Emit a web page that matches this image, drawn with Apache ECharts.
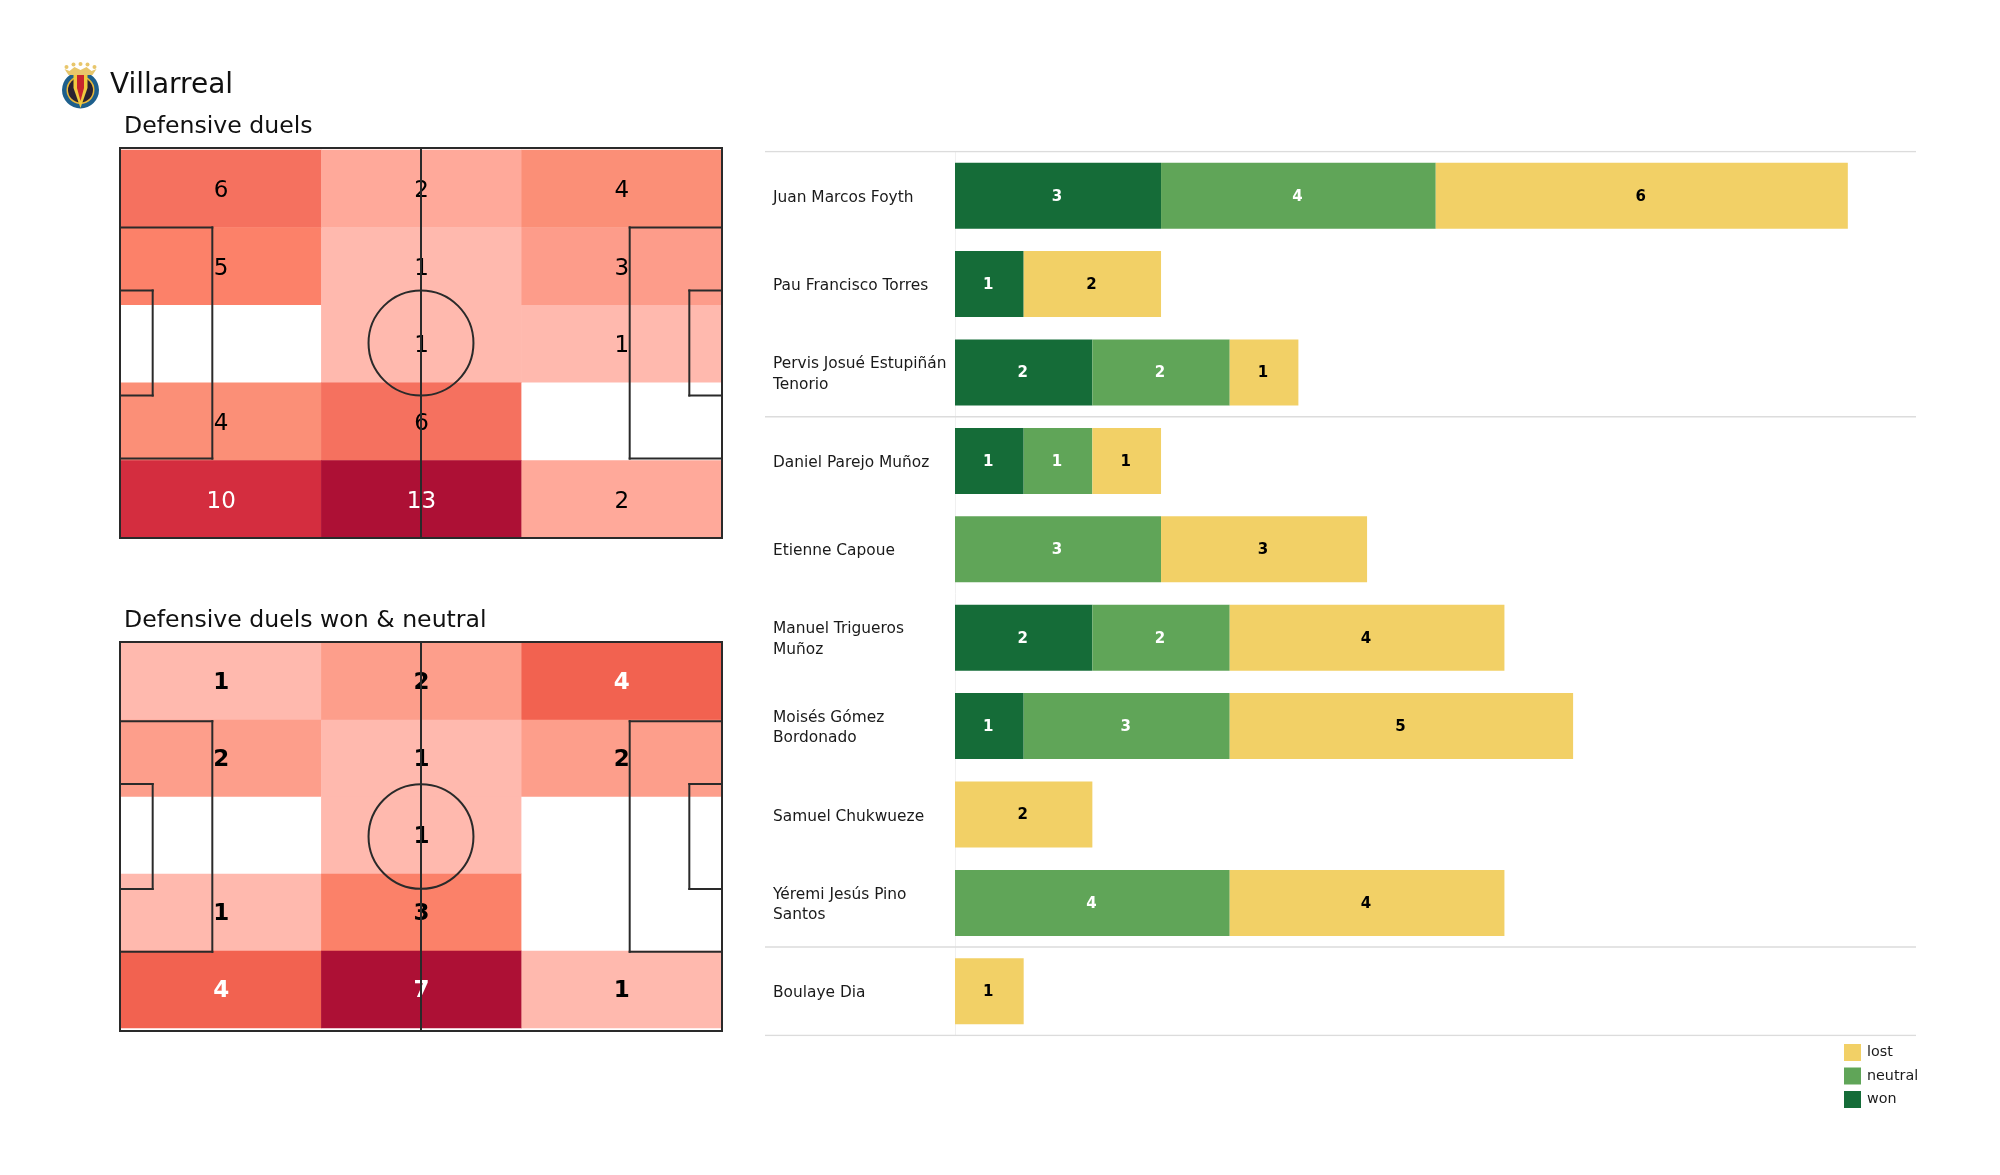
<!DOCTYPE html>
<html><head><meta charset="utf-8">
<style>html,body{margin:0;padding:0;background:#fff}#c{width:2000px;height:1175px}</style>
<script src="https://cdn.jsdelivr.net/npm/echarts@6/dist/echarts.min.js"></script>
</head><body><div id="c"></div>
<script>
const FONT = '"DejaVu Sans"';
// Heatmaps
const zoneCols = ['left', 'middle', 'right'];
const zoneRows = ['r1', 'r2', 'r3', 'r4', 'r5'];
const duelsAll = [[6,2,4],[5,1,3],[0,1,1],[4,6,0],[10,13,2]];
const duelsWonNeutral = [[1,2,4],[2,1,2],[0,1,0],[1,3,0],[4,7,1]];
const shadesAll = {0:'#ffffff',1:'#ffb9ae',2:'#ffa99a',3:'#fd9c8a',4:'#fb8f77',5:'#fc8169',6:'#f5715f',10:'#d42d3f',13:'#ad1035'};
const shadesWon = {0:'#ffffff',1:'#ffb9ae',2:'#fd9e8b',3:'#fb8169',4:'#f26250',7:'#ad1035'};
// Pitch markings, metres
const pitchLen = 105, pitchWid = 68;
const pitchSegments = [
  [0,0,105,0],[105,0,105,68],[105,68,0,68],[0,68,0,0],[52.5,0,52.5,68],
  [0,13.84,16.1,13.84],[16.1,13.84,16.1,54.16],[16.1,54.16,0,54.16],
  [0,24.84,5.7,24.84],[5.7,24.84,5.7,43.16],[5.7,43.16,0,43.16],
  [105,13.84,88.9,13.84],[88.9,13.84,88.9,54.16],[88.9,54.16,105,54.16],
  [105,24.84,99.3,24.84],[99.3,24.84,99.3,43.16],[99.3,43.16,105,43.16]
];
const centreCircle = [[52.5,34,9.15]];
// Player bars
const players = ['Juan Marcos Foyth','Pau Francisco Torres','Pervis Josué Estupiñán\nTenorio','Daniel Parejo Muñoz','Etienne Capoue','Manuel Trigueros\nMuñoz','Moisés Gómez\nBordonado','Samuel Chukwueze','Yéremi Jesús Pino\nSantos','Boulaye Dia'];
const won =     [3,1,2,1,0,2,1,0,0,0];
const neutral = [4,0,2,1,3,2,3,0,4,0];
const lost =    [6,2,1,1,3,4,5,2,4,1];
const groupBoundaries = [0,3,9,10];

const heatData = (m, whiteFrom) => m.flatMap((row, r) => row.map((v, c) => ({
  value: [c, r, v],
  label: { color: v >= whiteFrom ? '#ffffff' : '#000000' }
})));
const pieces = s => Object.keys(s).map(k => ({ value: +k, color: s[k] }));

const hideAxis = { show: false };
const lineColor = '#2a2a2a';

function pitchSeries(xi) {
  return [{
    type: 'custom', xAxisIndex: xi, yAxisIndex: xi, z: 5, silent: true, clip: false,
    data: pitchSegments,
    renderItem: (p, api) => {
      const a = api.coord([api.value(0), api.value(1)]);
      const b = api.coord([api.value(2), api.value(3)]);
      return { type: 'line', shape: { x1: a[0], y1: a[1], x2: b[0], y2: b[1] }, style: { stroke: lineColor, lineWidth: 2, lineCap: 'square' } };
    }
  }, {
    type: 'custom', xAxisIndex: xi, yAxisIndex: xi, z: 5, silent: true, clip: false,
    data: centreCircle,
    renderItem: (p, api) => {
      const c = api.coord([api.value(0), api.value(1)]);
      const s = api.size([api.value(2), api.value(2)]);
      return { type: 'ellipse', shape: { cx: c[0], cy: c[1], rx: s[0], ry: s[1] }, style: { fill: 'none', stroke: lineColor, lineWidth: 2 } };
    }
  }];
}
function heatSeries(xi, m, whiteFrom, weight, dy) {
  return {
    type: 'heatmap', xAxisIndex: xi, yAxisIndex: xi, z: 2, silent: true,
    data: heatData(m, whiteFrom),
    label: { show: true, fontFamily: FONT, fontSize: 23, fontWeight: weight, offset: [0, dy],
      formatter: p => p.value[2] === 0 ? '' : String(p.value[2]) },
    itemStyle: { borderWidth: 0 }
  };
}
function barSeries(name, data, color, labelColor) {
  return {
    type: 'bar', name, data, stack: 'duels', xAxisIndex: 4, yAxisIndex: 4, barWidth: 66, z: 2, silent: true,
    itemStyle: { color },
    label: { show: true, position: 'inside', offset: [-1, 1], color: labelColor, fontFamily: FONT, fontSize: 15, fontWeight: 'bold',
      formatter: p => p.value === 0 ? '' : String(p.value) }
  };
}

const option = {
  animation: false,
  backgroundColor: '#ffffff',
  title: [
    { text: 'Villarreal', left: 110, top: 72, padding: 0, textStyle: { fontFamily: FONT, fontSize: 28, fontWeight: 'normal', color: '#111' } },
    { text: 'Defensive duels', left: 124, top: 115, padding: 0, textStyle: { fontFamily: FONT, fontSize: 23.6, fontWeight: 'normal', color: '#111' } },
    { text: 'Defensive duels won & neutral', left: 124, top: 609, padding: 0, textStyle: { fontFamily: FONT, fontSize: 23.6, fontWeight: 'normal', color: '#111' } }
  ],
  grid: [
    { left: 121, top: 150, width: 601, height: 388 },
    { left: 121, top: 643, width: 601, height: 385 },
    { left: 120, top: 148, width: 602, height: 390 },
    { left: 120, top: 642, width: 602, height: 389 },
    { left: 955, top: 151.5, width: 961.5, height: 884 },
    { left: 765, top: 151.5, width: 1151, height: 884 },
    { left: 955, top: 153.5, width: 961.5, height: 884 }
  ],
  xAxis: [
    { gridIndex: 0, type: 'category', data: zoneCols, ...hideAxis },
    { gridIndex: 1, type: 'category', data: zoneCols, ...hideAxis },
    { gridIndex: 2, type: 'value', min: 0, max: pitchLen, ...hideAxis },
    { gridIndex: 3, type: 'value', min: 0, max: pitchLen, ...hideAxis },
    { gridIndex: 4, type: 'value', min: 0, max: 14, ...hideAxis },
    { gridIndex: 5, type: 'value', min: 0, max: 1, ...hideAxis },
    { gridIndex: 6, type: 'value', min: 0, max: 14, ...hideAxis }
  ],
  yAxis: [
    { gridIndex: 0, type: 'category', inverse: true, data: zoneRows, ...hideAxis },
    { gridIndex: 1, type: 'category', inverse: true, data: zoneRows, ...hideAxis },
    { gridIndex: 2, type: 'value', min: 0, max: pitchWid, inverse: true, ...hideAxis },
    { gridIndex: 3, type: 'value', min: 0, max: pitchWid, inverse: true, ...hideAxis },
    { gridIndex: 4, type: 'category', inverse: true, data: players,
      axisTick: { show: false }, axisLabel: { show: false },
      axisLine: { show: true, lineStyle: { color: '#f0f0f0', width: 1 } } },
    { gridIndex: 5, type: 'value', min: 0, max: 10, inverse: true, ...hideAxis },
    { gridIndex: 6, type: 'category', inverse: true, data: players,
      axisTick: { show: false }, axisLine: { show: false },
      axisLabel: { align: 'left', margin: 182, fontFamily: FONT, fontSize: 15.4, lineHeight: 20.5, color: '#1a1a1a' } }
  ],
  visualMap: [
    { type: 'piecewise', show: false, seriesIndex: 0, dimension: 2, pieces: pieces(shadesAll) },
    { type: 'piecewise', show: false, seriesIndex: 1, dimension: 2, pieces: pieces(shadesWon) }
  ],
  legend: {
    orient: 'vertical', left: 1844, top: 1044, padding: 0, itemWidth: 17, itemHeight: 17, itemGap: 6.5, icon: 'rect',
    data: ['lost', 'neutral', 'won'], selectedMode: false,
    textStyle: { fontFamily: FONT, fontSize: 14.3, color: '#1a1a1a', padding: [0, 0, 0, 1] }
  },
  series: [
    heatSeries(0, duelsAll, 10, 'normal', 2.5),
    heatSeries(1, duelsWonNeutral, 4, 'bold', 1.5),
    ...pitchSeries(2),
    ...pitchSeries(3),
    barSeries('won', won, '#156c38', '#ffffff'),
    barSeries('neutral', neutral, '#60a558', '#ffffff'),
    barSeries('lost', lost, '#f2d066', '#000000'),
    {
      type: 'line', xAxisIndex: 5, yAxisIndex: 5, silent: true, symbol: 'none', z: 1,
      lineStyle: { color: '#dcdcdc', width: 1.5 }, connectNulls: false,
      data: groupBoundaries.flatMap(b => [[0, b], [1, b], [null, null]])
    }
  ],
  graphic: [{
    type: 'group', left: 62, top: 62, silent: true,
    children: [
      { type: 'circle', shape: { cx: 19, cy: 28, r: 18.5 }, style: { fill: '#1d5f8c' } },
      { type: 'circle', shape: { cx: 19, cy: 28, r: 14 }, style: { fill: '#e9b93a' } },
      { type: 'circle', shape: { cx: 19, cy: 28, r: 12.5 }, style: { fill: '#2a2230' } },
      { type: 'polygon', shape: { points: [[12,8],[26,8],[26,26],[19,46],[12,26]] }, style: { fill: '#f0c93f' } },
      { type: 'polygon', shape: { points: [[15.5,11],[22.5,11],[22.5,26],[19,39],[15.5,26]] }, style: { fill: '#c8252d' } },
      { type: 'polygon', shape: { points: [[3,7],[8,9],[13,5],[19,8],[25,5],[30,9],[35,7],[31,13],[7,13]] }, style: { fill: '#e8c66b' } },
      { type: 'circle', shape: { cx: 5, cy: 5, r: 2 }, style: { fill: '#e8c66b' } },
      { type: 'circle', shape: { cx: 12, cy: 2.5, r: 2 }, style: { fill: '#e8c66b' } },
      { type: 'circle', shape: { cx: 19, cy: 2, r: 2 }, style: { fill: '#e8c66b' } },
      { type: 'circle', shape: { cx: 26, cy: 2.5, r: 2 }, style: { fill: '#e8c66b' } },
      { type: 'circle', shape: { cx: 33, cy: 5, r: 2 }, style: { fill: '#e8c66b' } }
    ]
  }]
};
const chart = echarts.init(document.getElementById('c'), null, { renderer: 'canvas' });
chart.setOption(option);
</script></body></html>
